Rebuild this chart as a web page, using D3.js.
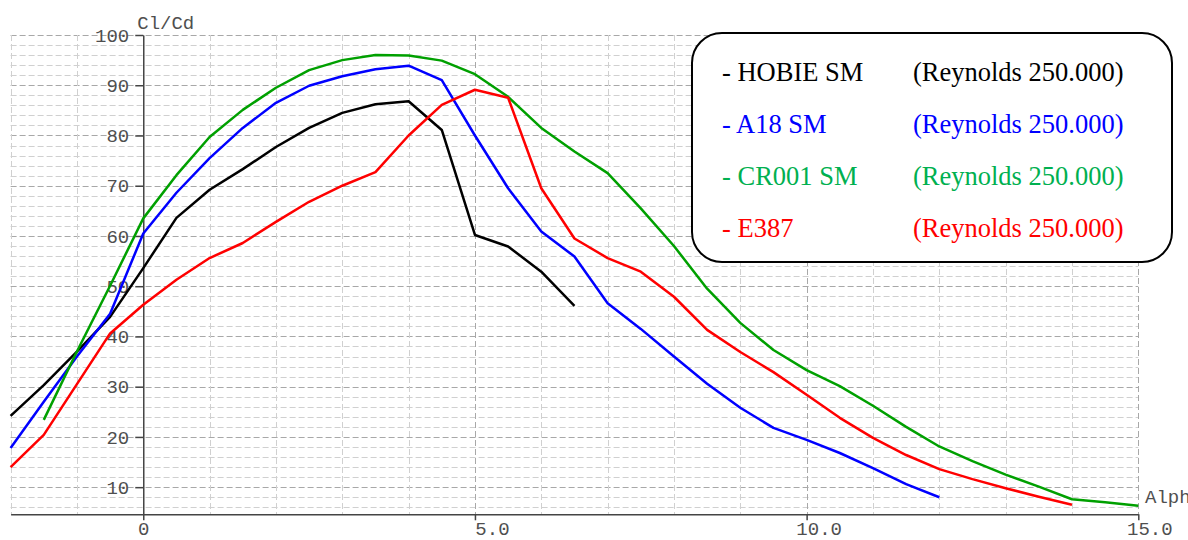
<!DOCTYPE html>
<html><head><meta charset="utf-8">
<script src="https://cdn.jsdelivr.net/npm/d3@7"></script>
<style>body{margin:0;background:#fff}svg{display:block}</style>
</head><body>
<svg id="c" width="1188" height="540"></svg>
<script>
const alphaHobie = [-2,-1.5,-1,-0.5,0,0.5,1,1.5,2,2.5,3,3.5,4,4.5,5,5.5,6,6.5];
const hobieSM   = [24.2,30.3,37.0,43.9,53.6,63.6,69.2,73.3,77.7,81.5,84.5,86.2,86.8,81.1,60.2,57.9,52.9,46.1];

const alphaA18 = [-2,-1.5,-1,-0.5,0,0.5,1,1.5,2,2.5,3,3.5,4,4.5,5,5.5,6,6.5,7,7.5,8,8.5,9,9.5,10,10.5,11,11.5,12];
const a18SM    = [17.8,27.0,36.0,44.5,60.5,68.6,75.5,81.5,86.5,89.9,91.8,93.2,93.9,91.0,80.0,69.5,60.9,55.9,46.6,41.5,36.0,30.6,25.8,21.8,19.4,16.8,13.8,10.6,8.0];

const alphaCR = [-1.5,-1,-0.5,0,0.5,1,1.5,2,2.5,3,3.5,4,4.5,5,5.5,6,6.5,7,7.5,8,8.5,9,9.5,10,10.5,11,11.5,12,12.5,13,13.5,14,14.5,15];
const cr001SM = [23.4,37.0,50.1,63.5,72.1,79.7,85.1,89.5,93.0,95.0,96.0,95.9,94.9,92.2,87.7,81.5,76.8,72.5,65.5,58.0,49.5,42.7,37.3,33.3,30.1,26.2,22.0,18.1,15.2,12.5,10.1,7.6,7.0,6.3];

const alphaE387 = [-2,-1.5,-1,-0.5,0,0.5,1,1.5,2,2.5,3,3.5,4,4.5,5,5.5,6,6.5,7,7.5,8,8.5,9,9.5,10,10.5,11,11.5,12,12.5,13,13.5,14];
const e387      = [14.0,20.4,30.5,40.6,46.3,51.3,55.6,58.6,62.8,66.8,70.0,72.7,80.0,86.1,89.1,87.5,69.5,59.5,55.6,52.9,47.9,41.3,36.9,32.9,28.4,23.8,19.8,16.4,13.6,11.6,9.8,8.1,6.5];

const seriesNames  = ["HOBIE SM","A18 SM","CR001 SM","E387"];
const reynolds     = ["(Reynolds 250.000)","(Reynolds 250.000)","(Reynolds 250.000)","(Reynolds 250.000)"];
const xTickValues  = [0,5,10,15];
const xTickLabels  = ["0","5.0","10.0","15.0"];
const yTickValues  = [10,20,30,40,50,60,70,80,90,100];

const lineColors = ["#000000","#0000ff","#00a000","#ff0000"];
const textColors = ["#000000","#0000ff","#00b050","#ff0000"];
const xLabelShift = [0,17,12,11];

const series = [
  {x: alphaHobie, y: hobieSM},
  {x: alphaA18, y: a18SM},
  {x: alphaCR, y: cr001SM},
  {x: alphaE387, y: e387}
];

const svg = d3.select("#c");
const x = d3.scaleLinear().domain([-2, 15]).range([10.6, 1138.3]);
const y = d3.scaleLinear().domain([4.6, 100]).range([514.3, 35]);

const g = svg.append("g");
const axisFont = "'Liberation Mono', 'Courier New', monospace";
const axisColor = "#4f4f4f";
const fs = 19;

// grid horizontal (every 2)
const hVals = d3.range(6, 100.1, 2);
g.selectAll("line.hg").data(hVals).join("line")
  .attr("x1", x(-2)).attr("x2", x(15))
  .attr("y1", d => Math.round(y(d)) + 0.5).attr("y2", d => Math.round(y(d)) + 0.5)
  .attr("stroke", d => d % 10 === 0 ? "#a8a8a8" : "#d0d0d0")
  .attr("stroke-width", 1)
  .attr("stroke-dasharray", "6,3");
// grid vertical (every 1)
const vVals = d3.range(-2, 15.1, 1);
g.selectAll("line.vg").data(vVals).join("line")
  .attr("x1", d => Math.round(x(d)) + 0.5).attr("x2", d => Math.round(x(d)) + 0.5)
  .attr("y1", y(100)).attr("y2", y(4.6))
  .attr("stroke", d => d % 5 === 0 ? "#a8a8a8" : "#d0d0d0")
  .attr("stroke-width", 1)
  .attr("stroke-dasharray", "6,3");

// x axis
const xAxis = d3.axisBottom(x).tickValues(xTickValues)
  .tickFormat((d, i) => xTickLabels[i]).tickSize(6).tickSizeOuter(0);
const xg = svg.append("g").attr("transform", `translate(0,${y(4.6)})`).call(xAxis);
xg.select(".domain").attr("stroke", "#444").attr("stroke-width", 1.5);
xg.selectAll(".tick line").attr("stroke", "#444").attr("stroke-width", 1.5);
xg.selectAll(".tick text").attr("font-family", axisFont).attr("font-size", fs)
  .attr("fill", axisColor).attr("dy", "0.95em").attr("y", 3)
  .attr("dx", (d, i) => xLabelShift[i]);

// y axis at alpha=0
const yAxis = d3.axisLeft(y).tickValues(yTickValues).tickSize(8).tickSizeOuter(0);
const yg = svg.append("g").attr("transform", `translate(${x(0)},0)`).call(yAxis);
yg.select(".domain").attr("stroke", "#444").attr("stroke-width", 1.5);
yg.selectAll(".tick line").attr("stroke", "#444").attr("stroke-width", 1.5);
yg.selectAll(".tick text").attr("font-family", axisFont).attr("font-size", fs)
  .attr("fill", axisColor).attr("x", -14);

svg.append("text").attr("x", x(0) - 6).attr("y", 29).text("Cl/Cd")
  .attr("font-family", axisFont).attr("font-size", fs).attr("fill", axisColor);
svg.append("text").attr("x", 1145).attr("y", 503).text("Alpha")
  .attr("font-family", axisFont).attr("font-size", fs).attr("fill", axisColor);

// lines
const line = d3.line().x(d => x(d[0])).y(d => y(d[1]));
series.forEach((s, i) => {
  svg.append("path")
    .datum(s.x.map((a, k) => [a, s.y[k]]))
    .attr("d", line).attr("fill", "none")
    .attr("stroke", lineColors[i]).attr("stroke-width", 2.5)
    .attr("stroke-linejoin", "round");
});

// legend
const lg = svg.append("g");
lg.append("rect").attr("x", 692).attr("y", 33).attr("width", 480).attr("height", 229)
  .attr("rx", 30).attr("ry", 30).attr("fill", "#fff").attr("stroke", "#000").attr("stroke-width", 2);
seriesNames.forEach((n, i) => {
  lg.append("text").attr("x", 722).attr("y", 81 + i * 52).text("- " + n)
    .attr("font-family", "'Liberation Serif', 'Times New Roman', serif").attr("font-size", 26.5)
    .attr("fill", textColors[i]);
  lg.append("text").attr("x", 913).attr("y", 81 + i * 52).text(reynolds[i])
    .attr("font-family", "'Liberation Serif', 'Times New Roman', serif").attr("font-size", 26.5)
    .attr("fill", textColors[i]);
});
</script>
</body></html>
